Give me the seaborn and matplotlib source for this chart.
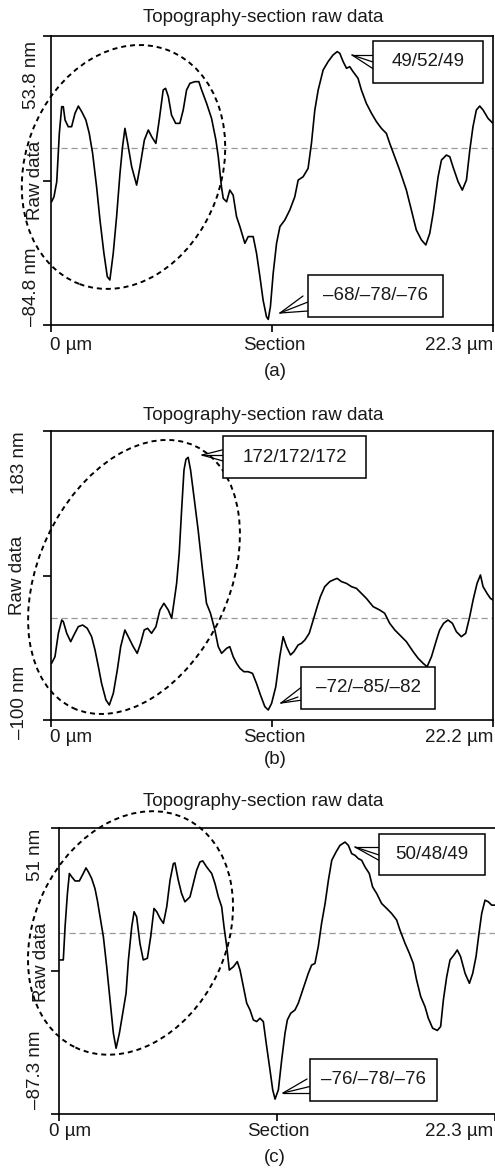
import numpy as np
import pandas as pd
import matplotlib
matplotlib.use("Agg")
import matplotlib.pyplot as plt
from matplotlib.patches import Ellipse, Rectangle
from matplotlib.lines import Line2D
import seaborn as sns

# ---------------- data ----------------
title = "Topography-section raw data"
panel_labels = ["(a)", "(b)", "(c)"]

# panel (a)
a_x = [0.03, 0.15, 0.29, 0.42, 0.54, 0.62, 0.71, 0.87, 1.04, 1.21, 1.38, 1.55, 1.76, 1.93, 2.10,
       2.30, 2.47, 2.67, 2.84, 2.97, 3.14, 3.31, 3.48, 3.61, 3.73, 3.87, 4.07, 4.32, 4.49, 4.71,
       4.91, 5.08, 5.29, 5.46, 5.66, 5.78, 5.92, 6.08, 6.29, 6.50, 6.67, 6.84, 7.01, 7.26, 7.46,
       7.60, 7.85, 8.10, 8.32, 8.44, 8.60, 8.69, 8.86, 9.02, 9.19, 9.36, 9.53, 9.78, 9.95, 10.20,
       10.37, 10.54, 10.70, 10.87, 10.96, 11.07, 11.21, 11.38, 11.55, 11.80, 12.05, 12.30, 12.47,
       12.72, 12.97, 13.14, 13.31, 13.48, 13.73, 13.98, 14.23, 14.44, 14.57, 14.74, 14.91, 15.07,
       15.24, 15.49, 15.66, 15.91, 16.17, 16.42, 16.67, 16.92, 17.09, 17.34, 17.59, 17.93, 18.18,
       18.43, 18.69, 18.91, 19.11, 19.28, 19.53, 19.70, 19.95, 20.12, 20.28, 20.54, 20.75, 20.96,
       21.13, 21.29, 21.46, 21.63, 21.80, 22.05, 22.30]
a_y = [-25.7, -23.3, -16.1, 7.1, 19.9, 19.9, 13.5, 10.3, 10.3, 16.7, 20.2, 17.5, 13.5, 7.1, -2.5,
       -18.5, -34.4, -50.4, -61.6, -63.2, -50.4, -32.8, -12.1, 0.7, 9.5, 2.3, -8.9, -17.7, -8.9, 3.9,
       8.7, 5.5, 2.3, 13.5, 27.9, 28.7, 24.7, 15.9, 11.9, 11.9, 18.3, 27.9, 31.1, 31.9, 31.9,
       27.9, 21.5, 14.3, 3.9, -4.1, -18.5, -24.1, -25.7, -20.1, -22.5, -32.8, -37.6, -45.6, -42.4, -42.4,
       -50.4, -61.6, -72.8, -80.8, -82.1, -76.0, -60.0, -45.6, -37.6, -34.4, -29.6, -23.3, -15.3,
       -13.7, -9.7, 2.3, 18.3, 27.9, 37.5, 41.5, 44.7, 46.3, 45.5, 41.5, 38.3, 39.1,
       36.7, 33.5, 27.9, 21.5, 16.7, 12.7, 9.5, 7.1, 2.3, -4.1, -10.5, -20.1, -29.6,
       -39.2, -44.0, -46.4, -40.8, -31.2, -13.7, -5.7, -3.3, -4.1, -8.9, -16.1, -20.1, -15.3,
       -0.9, 10.3, 18.3, 20.2, 18.3, 14.3, 11.9]

# panel (b)
b_x = [0.03, 0.20, 0.37, 0.54, 0.62, 0.79, 0.99, 1.15, 1.37, 1.59, 1.82, 2.04, 2.21, 2.38, 2.54,
       2.76, 2.93, 3.13, 3.33, 3.50, 3.71, 3.88, 4.13, 4.33, 4.50, 4.68, 4.85, 5.05, 5.27, 5.47,
       5.67, 5.89, 6.06, 6.17, 6.31, 6.44, 6.56, 6.68, 6.78, 6.89, 7.01, 7.18, 7.39, 7.61, 7.81,
       8.01, 8.23, 8.40, 8.57, 8.82, 8.98, 9.15, 9.32, 9.49, 9.69, 9.90, 10.12, 10.32, 10.52, 10.74,
       10.91, 11.08, 11.29, 11.49, 11.66, 11.83, 12.03, 12.20, 12.41, 12.58, 12.75, 12.97, 13.17,
       13.37, 13.53, 13.75, 14.00, 14.17, 14.37, 14.59, 14.84, 15.09, 15.34, 15.59, 15.84, 16.18,
       16.51, 16.76, 17.01, 17.27, 17.52, 17.85, 18.19, 18.44, 18.69, 18.89, 19.11, 19.36, 19.52,
       19.72, 19.94, 20.16, 20.36, 20.61, 20.83, 21.03, 21.20, 21.40, 21.57, 21.70, 21.90, 22.07, 22.20]
b_y = [-44.5, -38.0, -15.1, -2.1, -3.7, -15.1, -23.3, -16.8, -8.6, -7.0, -10.2, -18.4, -31.4, -47.8, -64.1,
       -80.4, -85.3, -73.9, -51.0, -28.2, -11.9, -18.4, -28.2, -34.7, -24.9, -11.9, -10.2, -15.1, -8.6, 7.7,
       14.3, 7.7, -0.4, 14.3, 33.8, 63.2, 105.6, 144.8, 155.3, 157.2, 144.8, 118.7, 86.1, 46.9, 14.3,
       4.5, -11.9, -28.2, -34.7, -29.8, -28.2, -38.0, -44.5, -49.4, -52.7, -52.7, -54.3, -64.1, -75.5, -86.9,
       -90.2, -83.7, -67.4, -38.0, -18.4, -28.2, -36.3, -33.1, -26.6, -24.9, -21.7, -15.1, -2.1,
       11.0, 20.8, 30.6, 35.5, 37.1, 38.7, 35.5, 33.8, 30.6, 28.9, 24.0, 19.1, 11.0,
       7.7, 4.5, -5.3, -11.9, -16.8, -23.3, -33.1, -39.6, -44.5, -47.8, -38.0, -21.7, -11.9,
       -5.3, -2.1, -5.3, -13.5, -18.4, -15.1, 1.2, 17.5, 33.8, 42.0, 30.6, 24.0, 19.1, 17.5]

# panel (c)
c_x = [0.05, 0.22, 0.31, 0.43, 0.53, 0.65, 0.82, 1.04, 1.24, 1.38, 1.50, 1.67, 1.84, 1.96, 2.10,
       2.27, 2.44, 2.61, 2.78, 2.92, 3.09, 3.26, 3.43, 3.55, 3.72, 3.84, 3.97, 4.14, 4.31, 4.52,
       4.69, 4.86, 5.00, 5.17, 5.34, 5.51, 5.68, 5.85, 5.93, 6.10, 6.27, 6.44, 6.70, 6.87, 7.04,
       7.21, 7.35, 7.55, 7.81, 7.98, 8.15, 8.32, 8.44, 8.58, 8.71, 8.92, 9.12, 9.26, 9.43, 9.60,
       9.77, 9.94, 10.11, 10.28, 10.45, 10.62, 10.79, 10.93, 11.05, 11.22, 11.39, 11.56, 11.68,
       11.85, 12.07, 12.24, 12.41, 12.58, 12.75, 12.92, 13.09, 13.26, 13.43, 13.61, 13.78, 13.95,
       14.17, 14.37, 14.63, 14.80, 14.97, 15.14, 15.31, 15.48, 15.65, 15.87, 16.04, 16.25, 16.50,
       16.76, 17.01, 17.27, 17.44, 17.70, 17.92, 18.12, 18.29, 18.50, 18.72, 18.89, 19.11, 19.35,
       19.52, 19.66, 19.83, 20.00, 20.20, 20.37, 20.54, 20.77, 20.99, 21.16, 21.33, 21.48, 21.62,
       21.79, 21.96, 22.13, 22.30]
c_y = [-12.8, -12.8, 3.2, 19.3, 29.0, 27.4, 25.4, 25.4, 29.0, 31.7, 29.8, 26.6, 21.7, 16.1, 8.1,
       -1.6, -16.1, -32.1, -48.2, -55.5, -48.2, -38.6, -28.9, -12.8, 3.2, 10.5, 8.1, -4.8, -12.8, -12.0,
       -1.6, 12.1, 10.5, 7.3, 4.9, 12.9, 25.8, 33.8, 34.1, 25.8, 19.3, 15.3, 17.7, 24.1, 30.6,
       34.6, 35.1, 32.2, 29.0, 24.1, 17.7, 12.9, 3.2, -6.4, -17.7, -16.1, -13.6, -17.7, -25.7, -33.7,
       -37.0, -41.8, -42.6, -41.0, -42.6, -54.6, -65.9, -75.6, -80.1, -75.6, -61.1, -48.2, -41.8,
       -38.6, -37.0, -33.7, -28.9, -24.1, -19.3, -15.3, -14.5, -6.4, 4.9, 14.5, 25.8, 35.4,
       39.4, 42.6, 44.2, 42.6, 38.6, 37.8, 36.2, 35.4, 32.2, 29.0, 22.5, 19.3, 14.5,
       12.1, 9.7, 6.5, 1.6, -4.8, -9.6, -14.5, -22.5, -30.5, -35.4, -41.0, -45.8, -46.9,
       -45.0, -32.1, -20.9, -12.8, -10.4, -8.0, -11.2, -19.3, -24.1, -19.3, -11.2, 0.0, 9.7,
       16.1, 15.3, 13.7, 13.7]

x_max = [22.3, 22.2, 22.3]
y_min = [-84.8, -100.0, -87.3]
y_max = [53.8, 183.0, 51.0]
y_top_labels = ["53.8 nm", "183 nm", "51 nm"]
y_bot_labels = ["\u201384.8 nm", "\u2013100 nm", "\u201387.3 nm"]
x_left_label = "0 \u00b5m"
x_mid_label = "Section"
x_right_labels = ["22.3 \u00b5m", "22.2 \u00b5m", "22.3 \u00b5m"]
ylabel = "Raw data"
callout_texts = [["49/52/49", "\u201368/\u201378/\u201376"],
                 ["172/172/172", "\u201372/\u201385/\u201382"],
                 ["50/48/49", "\u201376/\u201378/\u201376"]]

# ---------------- style ----------------
sns.set_style("white")
plt.rcParams['font.family'] = ['Liberation Sans', 'DejaVu Sans']
FS = 13.5
plt.rcParams['font.size'] = FS
TXT = "#1a1a1a"

W, H = 495, 1168
fig = plt.figure(figsize=(W / 100, H / 100), dpi=100)
T = fig.dpi_scale_trans


def P(x, y):
    return (x / 100.0, (H - y) / 100.0)


# axes boxes in pixels: left, top, right, bottom
ax_px = [(51, 36, 493, 325), (51, 431, 493, 720), (59, 828, 495, 1114)]
data = [(a_x, a_y), (b_x, b_y), (c_x, c_y)]

# layout of decorations (pixels)
title_y = [17, 415, 801]
xlab_y = [345, 737, 1132]
plab_y = [372, 760, 1157]
ylab_x = [(32, 35), (20, 18), (35, 42)]   # (tick label x, "Raw data" x)
ytop_px = [41, 431, 829]
ybot_px = [326, 739, 1109]
yraw_px = [180, 575, 962]

ellipses = [((123.5, 167), 98, 125, -20.6),
            ((134, 577), 95.5, 144.5, -25.0),
            ((130.5, 933), 96, 127, -25.7)]

callouts = [
    [((352, 55), [(380, 55), (373, 62), (375, 70)], (373, 41, 483, 83)),
     ((280, 313), [(303, 296), (308, 302), (308, 311)], (308, 275, 443, 317))],
    [((202, 455), [(230, 448), (223, 455), (230, 463)], (223, 436, 366, 478)),
     ((281, 703), [(303, 686), (298, 697), (310, 699)], (301, 667, 435, 709))],
    [((355, 847), [(387, 847), (379, 855), (382, 862)], (379, 834, 485, 875)),
     ((283, 1093), [(307, 1079), (312, 1086), (312, 1093)], (310, 1059, 437, 1101))],
]

for i in range(3):
    l, t, r, b = ax_px[i]
    ax = fig.add_axes([l / W, (H - b) / H, (r - l) / W, (b - t) / H])
    df = pd.DataFrame({"x": data[i][0], "y": data[i][1]})
    sns.lineplot(data=df, x="x", y="y", ax=ax, color="black", lw=1.2,
                 estimator=None, sort=False)
    ax.axhline(0, color="#999999", lw=0.9, ls=(0, (5, 3)), zorder=1)
    ax.set_xlim(0, x_max[i])
    ax.set_ylim(y_min[i], y_max[i])
    ax.set_xlabel("")
    ax.set_ylabel("")
    for s in ax.spines.values():
        s.set_color("black")
        s.set_linewidth(1.2)
    if i == 2:
        ax.spines["right"].set_visible(False)
    ax.set_yticks([y_min[i], (y_min[i] + y_max[i]) / 2, y_max[i]])
    ax.set_yticklabels([])
    ax.set_xticks([0, x_max[i] / 2, x_max[i]])
    ax.set_xticklabels([])
    ax.tick_params(axis="y", direction="out", length=6, width=1.2, left=True, colors="black")
    ax.tick_params(axis="x", direction="out", length=5, width=1.2, bottom=True, colors="black")

    # title
    fig.text(*P(263, title_y[i]), title, transform=T, ha="center", va="center",
             fontsize=FS, color=TXT)
    # x labels
    fig.text(*P(l - 1 if i < 2 else 49, xlab_y[i]), x_left_label, transform=T,
             ha="left", va="center", fontsize=FS, color=TXT)
    fig.text(*P((l + r) / 2 + (2 if i < 2 else 1), xlab_y[i]), x_mid_label, transform=T,
             ha="center", va="center", fontsize=FS, color=TXT)
    fig.text(*P(493, xlab_y[i]), x_right_labels[i], transform=T,
             ha="right", va="center", fontsize=FS, color=TXT)
    fig.text(*P(275, plab_y[i]), panel_labels[i], transform=T,
             ha="center", va="center", fontsize=FS, color=TXT)
    # y labels
    fig.text(*P(ylab_x[i][0], ytop_px[i]), y_top_labels[i], transform=T, rotation=90,
             ha="center", va="top", fontsize=FS, color=TXT)
    fig.text(*P(ylab_x[i][0], ybot_px[i]), y_bot_labels[i], transform=T, rotation=90,
             ha="center", va="bottom", fontsize=FS, color=TXT)
    fig.text(*P(ylab_x[i][1], yraw_px[i]), ylabel, transform=T, rotation=90,
             ha="center", va="center", fontsize=FS, color=TXT)

    # ellipse
    (cx, cy), sb, sa, ang = ellipses[i]
    fig.add_artist(Ellipse(P(cx, cy), 2 * sb / 100, 2 * sa / 100, angle=ang,
                           transform=T, fill=False, ec="black", lw=1.4,
                           ls=(0, (2.6, 2.0)), zorder=5))

    # callouts
    for j, (tip, ends, box) in enumerate(callouts[i]):
        for e in ends:
            xs = [tip[0] / 100, e[0] / 100]
            ys = [(H - tip[1]) / 100, (H - e[1]) / 100]
            fig.add_artist(Line2D(xs, ys, transform=T, color="black", lw=0.9, zorder=6))
        bx0, by0, bx1, by1 = box
        fig.add_artist(Rectangle(P(bx0, by1), (bx1 - bx0) / 100, (by1 - by0) / 100,
                                 transform=T, fill=True, fc="white", ec="black",
                                 lw=1.1, zorder=6))
        fig.text(*P((bx0 + bx1) / 2, (by0 + by1) / 2), callout_texts[i][j], transform=T,
                 ha="center", va="center", fontsize=FS, color=TXT, zorder=7)

fig.savefig("out.png", dpi=100)
